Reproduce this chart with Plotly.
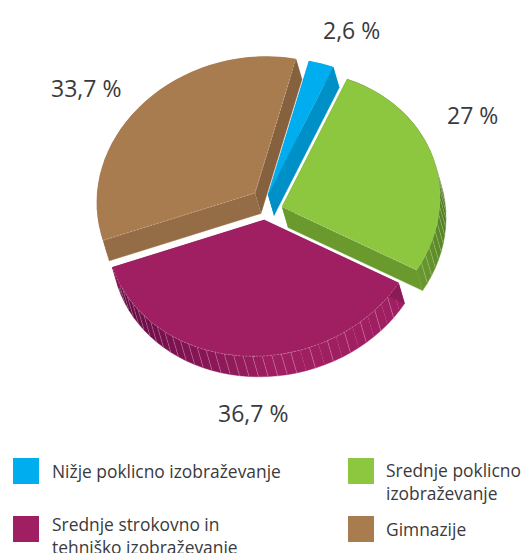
import numpy as np
import plotly.graph_objects as go

# --- data ---
CATEGORIES = ["Nižje poklicno izobraževanje", "Srednje poklicno<br>izobraževanje",
              "Srednje strokovno in<br>tehniško izobraževanje", "Gimnazije"]
VALUES = [2.6, 27.0, 36.7, 33.7]
VALUE_LABELS = ["2,6 %", "27 %", "36,7 %", "33,7 %"]

# --- style ---
TOP = ["#00aeef", "#8dc63f", "#a01f62", "#a97c50"]
CUT = ["#0090c8", "#6a9a2e", "#8a1a58", "#85613d"]
CUT_START = ["#0090c8", "#6a9a2e", "#8a1a58", "#946c45"]
OUTER_FROM = ["#0090c8", "#6a9a2e", "#a01f62", "#946c45"]
OUTER_TO = ["#0090c8", "#4f7a22", "#5e0840", "#946c45"]
RAMP = [None, (120, 85), (175, 250), None]
STRIPES = [False, True, True, False]
OFFSET_X = [2, 16, -2, -11]
OFFSET_Y = [-12, 0, 13, -14]
CX, CY, RX, RY = 266, 207, 158, 136
SHEAR = 0.06
DX, DY = 6, 20.5
START = 15
LABEL_POS = [(351, 30), (472, 115), (253, 413), (86, 88)]
SWATCH_POS = [(26, 471), (361, 471), (26, 529), (361, 529)]
TEXT_POS = [(50, 471), (384, 481), (50, 535), (384, 529)]
FONT = "Open Sans"
TEXT = "#3a3a3c"
EDGE = "rgba(255,255,255,0.4)"


def hex2rgb(h):
    return np.array([int(h[i:i + 2], 16) for i in (1, 3, 5)], float)


def mix(a, b, t):
    c = hex2rgb(a) * (1 - t) + hex2rgb(b) * t
    return "rgb(%d,%d,%d)" % tuple(c)


def pt(i, theta):
    th = np.radians(theta)
    x = RX * np.sin(th)
    y = -RY * np.cos(th) - SHEAR * x
    return (CX + OFFSET_X[i] + x, CY + OFFSET_Y[i] + y)


fig = go.Figure()


def poly(xs, ys, color):
    fig.add_trace(go.Scatter(x=list(xs), y=list(ys), mode="lines", fill="toself", fillcolor=color,
                             line=dict(color=color, width=0.4), hoverinfo="skip", showlegend=False))


def edge(points):
    fig.add_trace(go.Scatter(x=[p[0] for p in points], y=[p[1] for p in points], mode="lines",
                             hoverinfo="skip", showlegend=False,
                             line=dict(color=EDGE, width=0.7, dash="2px,1.5px")))


total = sum(VALUES)
edges = START + np.cumsum([0] + VALUES) / total * 360
for i in [3, 0, 1, 2]:
    a0, a1 = edges[i], edges[i + 1]
    apex = (CX + OFFSET_X[i], CY + OFFSET_Y[i])
    # outer wall strips
    n = max(int((a1 - a0) / 3.4), 1)
    ang = np.linspace(a0, a1, n + 1)
    sepx, sepy = [], []
    for j in range(n):
        sub = np.linspace(ang[j], ang[j + 1], 4)
        p = [pt(i, s) for s in sub]
        xs = [q[0] for q in p] + [q[0] + DX for q in p[::-1]]
        ys = [q[1] for q in p] + [q[1] + DY for q in p[::-1]]
        t = 0
        if RAMP[i]:
            t = float(np.clip((ang[j] - RAMP[i][0]) / (RAMP[i][1] - RAMP[i][0]), 0, 1))
        poly(xs, ys, mix(OUTER_FROM[i], OUTER_TO[i], t))
        if STRIPES[i] and not (i == 2 and ang[j] < 170 and j % 2):
            sepx += [p[0][0], p[0][0] + DX, None]
            sepy += [p[0][1], p[0][1] + DY, None]
    if sepx:
        fig.add_trace(go.Scatter(x=sepx, y=sepy, mode="lines", hoverinfo="skip", showlegend=False,
                                 line=dict(color="rgba(255,255,255,0.3)", width=0.7)))
    # cut walls
    for ang_edge, col in ((a0, CUT_START[i]), (a1, CUT[i])):
        e = pt(i, ang_edge)
        poly([apex[0], e[0], e[0] + DX, apex[0] + DX], [apex[1], e[1], e[1] + DY, apex[1] + DY], col)
    # top face
    arc = [pt(i, s) for s in np.linspace(a0, a1, 90)]
    poly([apex[0]] + [q[0] for q in arc], [apex[1]] + [q[1] for q in arc], TOP[i])
    # faint edges of the top face where a wall shows below it
    if i == 3:
        edge([pt(i, a0), apex, pt(i, a1)])
    if i == 2:
        edge(arc)
    if i == 1:
        edge([arc[-1], apex])

# value labels
for (x, y), lab in zip(LABEL_POS, VALUE_LABELS):
    fig.add_annotation(x=x, y=y, text=lab, showarrow=False, xanchor="center", yanchor="middle",
                       font=dict(family=FONT, size=23, color=TEXT))

# legend
for (x, y), col in zip(SWATCH_POS, TOP):
    fig.add_trace(go.Scatter(x=[x], y=[y], mode="markers", hoverinfo="skip", showlegend=False,
                             marker=dict(symbol="square", size=26, color=col, line=dict(width=0))))
for (x, y), cat in zip(TEXT_POS, CATEGORIES):
    fig.add_annotation(x=x, y=y, text=cat, showarrow=False, xanchor="left", yanchor="middle", align="left",
                       font=dict(family=FONT, size=17.4, color=TEXT))

fig.update_layout(width=521, height=553, margin=dict(l=0, r=0, t=0, b=0),
                  paper_bgcolor="white", plot_bgcolor="white",
                  xaxis=dict(range=[0, 521], visible=False, fixedrange=True),
                  yaxis=dict(range=[553, 0], visible=False, fixedrange=True))
fig.write_html("out.html", config={"displayModeBar": False},
               post_script="document.body.style.margin='0';document.documentElement.style.overflow='hidden';")
